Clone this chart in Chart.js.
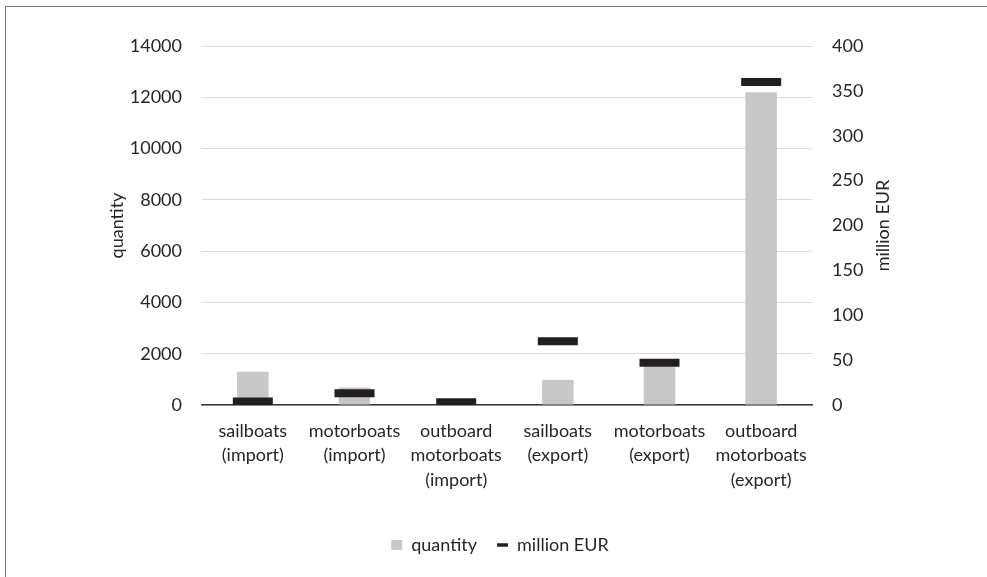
<!DOCTYPE html>
<html>
<head>
<meta charset="utf-8">
<script src="https://cdn.jsdelivr.net/npm/chart.js@4/dist/chart.umd.min.js"></script>
<style>
    body { margin: 0; background: #fff; overflow: hidden; }
    #wrap { position: relative; width: 987px; height: 577px; }
    #frame { position: absolute; left: 5px; top: 6px; width: 1000px; height: 600px; border: 1.5px solid #7a7a7a; }
    #chart { position: absolute; left: 0; top: 0; }
</style>
</head>
<body>
<div id="wrap">
    <div id="frame"></div>
    <canvas id="chart" width="987" height="577"></canvas>
</div>
<script>
// data
const categories = [
    ['sailboats', '(import)'],
    ['motorboats', '(import)'],
    ['outboard', 'motorboats', '(import)'],
    ['sailboats', '(export)'],
    ['motorboats', '(export)'],
    ['outboard', 'motorboats', '(export)']
];
const quantity = [1300, 680, 200, 980, 1500, 12200];
const millionEur = [4, 13, 3, 71, 47, 360];
const quantityTicks = [0, 2000, 4000, 6000, 8000, 10000, 12000, 14000];
const eurTicks = [0, 50, 100, 150, 200, 250, 300, 350, 400];

const FONT = { family: 'Lato', size: 18 };
const TEXT = '#262626';
const RIGHT_TITLE = 'million EUR';

Chart.defaults.font.family = 'Lato';
Chart.defaults.color = TEXT;

// right axis title reads bottom-to-top like the left one
const rightTitle = {
    id: 'rightTitle',
    afterDraw(chart) {
        const s = chart.scales.y1;
        const ctx = chart.ctx;
        ctx.save();
        ctx.translate(s.right - 4 - 10.8, (s.top + s.bottom) / 2);
        ctx.rotate(-Math.PI / 2);
        ctx.font = '18px Lato';
        ctx.fillStyle = TEXT;
        ctx.textAlign = 'center';
        ctx.textBaseline = 'middle';
        ctx.fillText(RIGHT_TITLE, 0, 0);
        ctx.restore();
    }
};

new Chart(document.getElementById('chart'), {
    data: {
        labels: categories,
        datasets: [
            {
                type: 'bar',
                label: 'quantity',
                data: quantity,
                yAxisID: 'y',
                backgroundColor: '#c8c8c8',
                categoryPercentage: 1,
                barPercentage: 0.31,
                order: 1
            },
            {
                type: 'line',
                label: 'million EUR',
                data: millionEur,
                yAxisID: 'y1',
                showLine: false,
                pointStyle: 'line',
                pointRadius: 20,
                pointHoverRadius: 20,
                pointBorderWidth: 8,
                borderColor: '#231f20',
                backgroundColor: '#231f20',
                order: 0
            }
        ]
    },
    options: {
        responsive: false,
        animation: false,
        layout: { padding: { left: 102, right: 89, top: 46, bottom: 13 } },
        plugins: {
            tooltip: { enabled: false },
            legend: {
                position: 'bottom',
                labels: {
                    sort: (a, b) => a.datasetIndex - b.datasetIndex,
                    font: FONT,
                    color: TEXT,
                    usePointStyle: true,
                    boxHeight: 10,
                    boxWidth: 11,
                    pointStyleWidth: 11,
                    padding: 20,
                    generateLabels: function (chart) {
                        const items = Chart.defaults.plugins.legend.labels.generateLabels(chart);
                        items.forEach(function (it) {
                            if (it.datasetIndex === 0) {
                                it.pointStyle = 'rect';
                                it.fillStyle = '#c8c8c8';
                                it.strokeStyle = '#c8c8c8';
                                it.lineWidth = 0;
                            } else {
                                it.pointStyle = 'line';
                                it.strokeStyle = '#231f20';
                                it.lineWidth = 3.5;
                            }
                        });
                        return items;
                    }
                }
            }
        },
        scales: {
            x: {
                grid: { display: false, drawTicks: false },
                border: { display: true, color: '#3a3a3a', width: 1.5 },
                ticks: {
                    font: { family: 'Lato', size: 18, lineHeight: 1.35 },
                    color: TEXT, padding: 14, maxRotation: 0, autoSkip: false
                },
                afterFit: function (scale) { scale.height = 111; }
            },
            y: {
                position: 'left',
                min: 0,
                max: 14000,
                afterBuildTicks: function (scale) {
                    scale.ticks = quantityTicks.map(v => ({ value: v }));
                },
                grid: { color: '#d9d9d9', lineWidth: 1, drawTicks: false },
                border: { display: false },
                ticks: { font: FONT, color: TEXT, padding: 20, callback: v => String(v) },
                title: { display: true, text: 'quantity', font: FONT, color: TEXT, padding: { top: 4, bottom: 3 } },
                afterFit: function (scale) { scale.width = 100; }
            },
            y1: {
                position: 'right',
                min: 0,
                max: 400,
                afterBuildTicks: function (scale) {
                    scale.ticks = eurTicks.map(v => ({ value: v }));
                },
                grid: { display: false, drawTicks: false },
                border: { display: false },
                ticks: { font: FONT, color: TEXT, padding: 20, callback: v => String(v) },
                afterFit: function (scale) { scale.width = 86; }
            }
        }
    },
    plugins: [rightTitle]
});
</script>
</body>
</html>
